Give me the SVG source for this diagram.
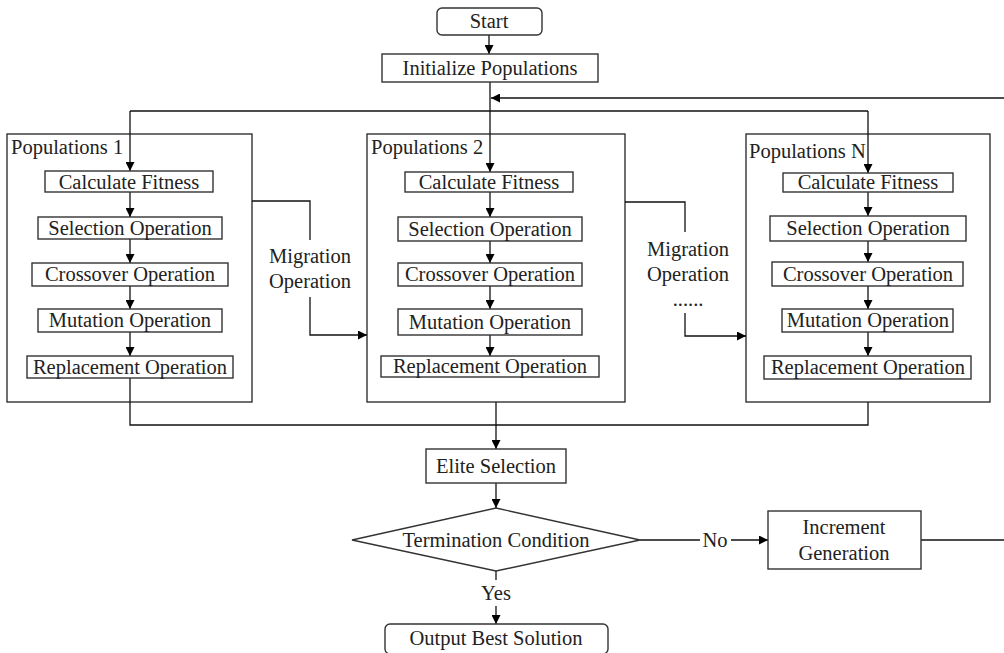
<svg xmlns="http://www.w3.org/2000/svg" width="1004" height="653" viewBox="0 0 1004 653" font-family="'Liberation Serif', 'Times New Roman', 'DejaVu Serif', serif">
<defs>
<marker id="ah" viewBox="0 0 10 10" refX="10" refY="5" markerWidth="9" markerHeight="9" markerUnits="userSpaceOnUse" orient="auto">
<path d="M0,0 L10,5 L0,10 z" fill="#000"/>
</marker>
<style>
text{font-family:'Liberation Serif','Times New Roman',serif;font-size:20.5px;fill:#222;text-anchor:middle;dominant-baseline:central}
.lbl{text-anchor:start}
.box{fill:#fff;stroke:#333;stroke-width:1.4}
.grp{fill:#fff;stroke:#222;stroke-width:1.3}
.ln{fill:none;stroke:#111;stroke-width:1.3}
.ar{fill:none;stroke:#111;stroke-width:1.3;marker-end:url(#ah)}
</style>
</defs>
<rect width="1004" height="653" fill="#fff"/>
<g id="pop1">
<rect class="grp" x="7" y="134" width="245" height="268"/>
<text class="lbl" x="11" y="147">Populations 1</text>
</g>
<g id="pop2">
<rect class="grp" x="367" y="134" width="258" height="268"/>
<text class="lbl" x="371" y="147">Populations 2</text>
</g>
<g id="popN">
<rect class="grp" x="746" y="134" width="244" height="268"/>
<text class="lbl" x="749" y="151">Populations N</text>
</g>
<g id="connectors">
<path class="ar" d="M489,35 V54"/>
<path class="ar" d="M490,82 V172"/>
<path class="ln" d="M130,111 H868"/>
<path class="ar" d="M130,111 V171"/>
<path class="ar" d="M868,111 V173"/>
<path class="ar" d="M1010,98 H491"/>
<path class="ln" d="M921,540 H1010"/>
<path class="ar" d="M130,192 V217"/>
<path class="ar" d="M130,239 V263"/>
<path class="ar" d="M130,286 V309"/>
<path class="ar" d="M130,332 V356"/>
<path class="ar" d="M490,192 V217"/>
<path class="ar" d="M490,241 V263"/>
<path class="ar" d="M490,286 V309"/>
<path class="ar" d="M490,335 V356"/>
<path class="ar" d="M868,192 V216"/>
<path class="ar" d="M868,241 V262"/>
<path class="ar" d="M868,286 V309"/>
<path class="ar" d="M868,332 V356"/>
<path class="ln" d="M130,378 V425 H868 V402"/>
<path class="ln" d="M496,402 V425"/>
<path class="ar" d="M496,425 V449"/>
<path class="ar" d="M496,483 V508"/>
<path class="ln" d="M496,571 V580"/>
<path class="ar" d="M496,606 V624"/>
<path class="ln" d="M640,540 H700"/>
<path class="ar" d="M731,540 H768"/>
<path class="ln" d="M252,201 H310 V240"/>
<path class="ar" d="M310,297 V335 H367"/>
<path class="ln" d="M625,202 H685 V232"/>
<path class="ar" d="M685,313 V336 H746"/>
</g>
<g id="migration1">
<text x="310" y="256">Migration</text>
<text x="310" y="281">Operation</text>
</g>
<g id="migration2">
<text x="688" y="249">Migration</text>
<text x="688" y="274">Operation</text>
<text x="688" y="299">......</text>
</g>
<g id="start">
<rect class="box" x="437" y="8" width="105" height="27" rx="5"/>
<text x="489" y="21">Start</text>
</g>
<g id="init">
<rect class="box" x="382" y="54" width="216" height="28"/>
<text x="490" y="68">Initialize Populations</text>
</g>
<g id="p1cf"><rect class="box" x="45" y="171" width="168" height="21"/><text x="129" y="182">Calculate Fitness</text></g>
<g id="p1so"><rect class="box" x="38" y="217" width="184" height="22"/><text x="130" y="228">Selection Operation</text></g>
<g id="p1co"><rect class="box" x="32" y="263" width="196" height="23"/><text x="130" y="274">Crossover Operation</text></g>
<g id="p1mo"><rect class="box" x="38" y="309" width="184" height="23"/><text x="130" y="320">Mutation Operation</text></g>
<g id="p1ro"><rect class="box" x="27" y="356" width="206" height="22"/><text x="130" y="367">Replacement Operation</text></g>
<g id="p2cf"><rect class="box" x="405" y="172" width="168" height="20"/><text x="489" y="182">Calculate Fitness</text></g>
<g id="p2so"><rect class="box" x="398" y="217" width="184" height="24"/><text x="490" y="229">Selection Operation</text></g>
<g id="p2co"><rect class="box" x="398" y="263" width="184" height="23"/><text x="490" y="274">Crossover Operation</text></g>
<g id="p2mo"><rect class="box" x="398" y="309" width="184" height="26"/><text x="490" y="322">Mutation Operation</text></g>
<g id="p2ro"><rect class="box" x="381" y="356" width="218" height="21"/><text x="490" y="366">Replacement Operation</text></g>
<g id="pNcf"><rect class="box" x="783" y="173" width="170" height="19"/><text x="868" y="182">Calculate Fitness</text></g>
<g id="pNso"><rect class="box" x="770" y="216" width="196" height="25"/><text x="868" y="228">Selection Operation</text></g>
<g id="pNco"><rect class="box" x="772" y="262" width="191" height="24"/><text x="868" y="274">Crossover Operation</text></g>
<g id="pNmo"><rect class="box" x="782" y="309" width="171" height="23"/><text x="868" y="320">Mutation Operation</text></g>
<g id="pNro"><rect class="box" x="764" y="356" width="207" height="23"/><text x="868" y="367">Replacement Operation</text></g>
<g id="elite">
<rect class="box" x="426" y="449" width="140" height="34"/>
<text x="496" y="466">Elite Selection</text>
</g>
<g id="term">
<path class="box" d="M352,540 L496,508 L640,540 L496,571 z"/>
<text x="496" y="540">Termination Condition</text>
</g>
<g id="yes"><text x="496" y="593">Yes</text></g>
<g id="no"><text x="715" y="540">No</text></g>
<g id="incr">
<rect class="box" x="768" y="511" width="153" height="58"/>
<text x="844" y="527">Increment</text>
<text x="844" y="553">Generation</text>
</g>
<g id="output">
<rect class="box" x="385" y="624" width="223" height="30" rx="5"/>
<text x="496" y="638">Output Best Solution</text>
</g>
</svg>
